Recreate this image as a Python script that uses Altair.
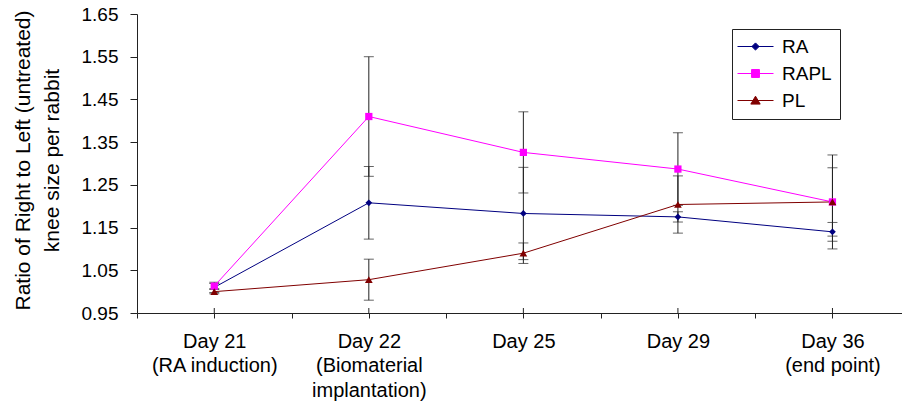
import json
import altair as alt
import pandas as pd

# ---- data ----
days = ["Day 21", "Day 22", "Day 25", "Day 29", "Day 36"]
day_notes = [["(RA induction)"], ["(Biomaterial", "implantation)"], [], [], ["(end point)"]]
series = ["RA", "RAPL", "PL"]
ra = [1.010, 1.208, 1.183, 1.175, 1.140]
ra_err = [0.012, 0.085, 0.108, 0.012, 0.022]
rapl = [1.013, 1.410, 1.326, 1.287, 1.210]
rapl_err = [0.006, 0.140, 0.095, 0.085, 0.110]
pl = [1.000, 1.028, 1.090, 1.204, 1.210]
pl_err = [0.005, 0.048, 0.024, 0.067, 0.080]
y_ticks = [0.95, 1.05, 1.15, 1.25, 1.35, 1.45, 1.55, 1.65]
y_title = ["Ratio of Right to Left (untreated)", "knee size per rabbit"]

colors = ["#000080", "#FF00FF", "#800000"]
shapes = ["diamond", "square", "triangle-up"]
sizes = [45, 60, 70]
# legend glyphs: a short line with the marker in the middle (unit = 9 px)
legend_paths = [
    "M-2,0L2,0M0,-0.4L0.4,0L0,0.4L-0.4,0Z",
    "M-2,0L2,0M-0.44,-0.44L0.44,-0.44L0.44,0.44L-0.44,0.44Z",
    "M-2,0L2,0M0,-0.48L0.52,0.4L-0.52,0.4Z",
]

rows = []
for name, vals, errs in zip(series, [ra, rapl, pl], [ra_err, rapl_err, pl_err]):
    for i, (v, e) in enumerate(zip(vals, errs)):
        rows.append({"series": name, "idx": i, "day": days[i], "value": v,
                     "lo": v - e, "hi": v + e})
df = pd.DataFrame(rows)
days_df = pd.DataFrame({"idx": list(range(len(days))), "day": days})

FONT = "Liberation Sans"

# x labels (multi-line) via label expression
parts = []
for i, (d, notes) in enumerate(zip(days, day_notes)):
    parts.append(f"datum.value == {i} ? {json.dumps([d] + notes)}")
label_expr = " : ".join(parts) + " : ''"
x_values = [-0.5, 0, 0.5, 1, 1.5, 2, 2.5, 3, 3.5, 4]

x_scale = alt.Scale(domain=[-0.5, 4.45], nice=False, zero=False)
y_scale = alt.Scale(domain=[0.95, 1.65], nice=False, zero=False)

x_axis = alt.Axis(values=x_values, labelExpr=label_expr, title=None, tickSize=5,
                  tickColor="#222", domainColor="#222", labelFontSize=20, labelFont=FONT,
                  labelColor="black", labelPadding=13, labelLineHeight=24.5,
                  labelBaseline="top", grid=False, labelAngle=0, labelOverlap=False,
                  labelFlush=False, labelBound=False)
y_axis = alt.Axis(values=y_ticks, format=".2f", title=y_title, titleFontSize=21,
                  titleFont=FONT, titleFontWeight="normal", titleColor="black",
                  titleX=-125, titleY=146, titleBaseline="top", titleAlign="center",
                  titleAngle=270, titleLineHeight=29, tickSize=7, tickColor="#222",
                  domainColor="#222", labelFontSize=19, labelFont=FONT,
                  labelColor="black", labelPadding=12, grid=False)

def X():
    return alt.X("idx:Q", scale=x_scale, axis=x_axis)

def Y(field):
    return alt.Y(f"{field}:Q", scale=y_scale, axis=y_axis)

base = alt.Chart(df)

err_rule = base.mark_rule(color="#222", strokeWidth=1).encode(x=X(), y=Y("lo"), y2="hi:Q")
cap_lo = base.mark_tick(orient="horizontal", size=10, thickness=1, color="#222").encode(x=X(), y=Y("lo"))
cap_hi = base.mark_tick(orient="horizontal", size=10, thickness=1, color="#222").encode(x=X(), y=Y("hi"))

center_ticks = alt.Chart(days_df).mark_rule(color="#222", strokeWidth=1).encode(
    x=X(), y=alt.value(294), y2=alt.value(299))

color_enc = alt.Color("series:N", scale=alt.Scale(domain=series, range=colors), legend=None)

lines = base.mark_line(strokeWidth=1).encode(x=X(), y=Y("value"), color=color_enc,
                                             detail="series:N", order="idx:Q")
points = base.mark_point(filled=True, opacity=1).encode(
    x=X(), y=Y("value"), color=color_enc,
    shape=alt.Shape("series:N", scale=alt.Scale(domain=series, range=shapes), legend=None),
    size=alt.Size("series:N", scale=alt.Scale(domain=series, range=sizes), legend=None),
)

leg = alt.Legend(orient="none", legendX=595, legendY=15, strokeColor="#222",
                 fillColor="white", padding=8, rowPadding=7, symbolSize=324,
                 symbolOffset=6, symbolStrokeWidth=1, symbolOpacity=1,
                 labelFontSize=19, labelFont=FONT, labelColor="black",
                 labelOffset=17, title=None)

legend_layer = base.mark_point(filled=True, opacity=0, strokeWidth=1).encode(
    x=X(), y=Y("value"),
    fill=alt.Fill("series:N", scale=alt.Scale(domain=series, range=colors), legend=leg),
    stroke=alt.Stroke("series:N", scale=alt.Scale(domain=series, range=colors), legend=leg),
    shape=alt.Shape("series:N", scale=alt.Scale(domain=series, range=legend_paths), legend=leg),
)

chart = alt.layer(err_rule, cap_lo, cap_hi, center_ticks, lines, points, legend_layer).resolve_scale(
    shape="independent", fill="independent", stroke="independent", size="independent"
).properties(
    width=765, height=299,
    padding={"left": 137, "top": 14, "right": 0, "bottom": 89},
    autosize=alt.AutoSizeParams(type="none"),
    background="white",
).configure_view(stroke=None)

chart.save("out.html", embed_options={"renderer": "svg", "actions": False})
